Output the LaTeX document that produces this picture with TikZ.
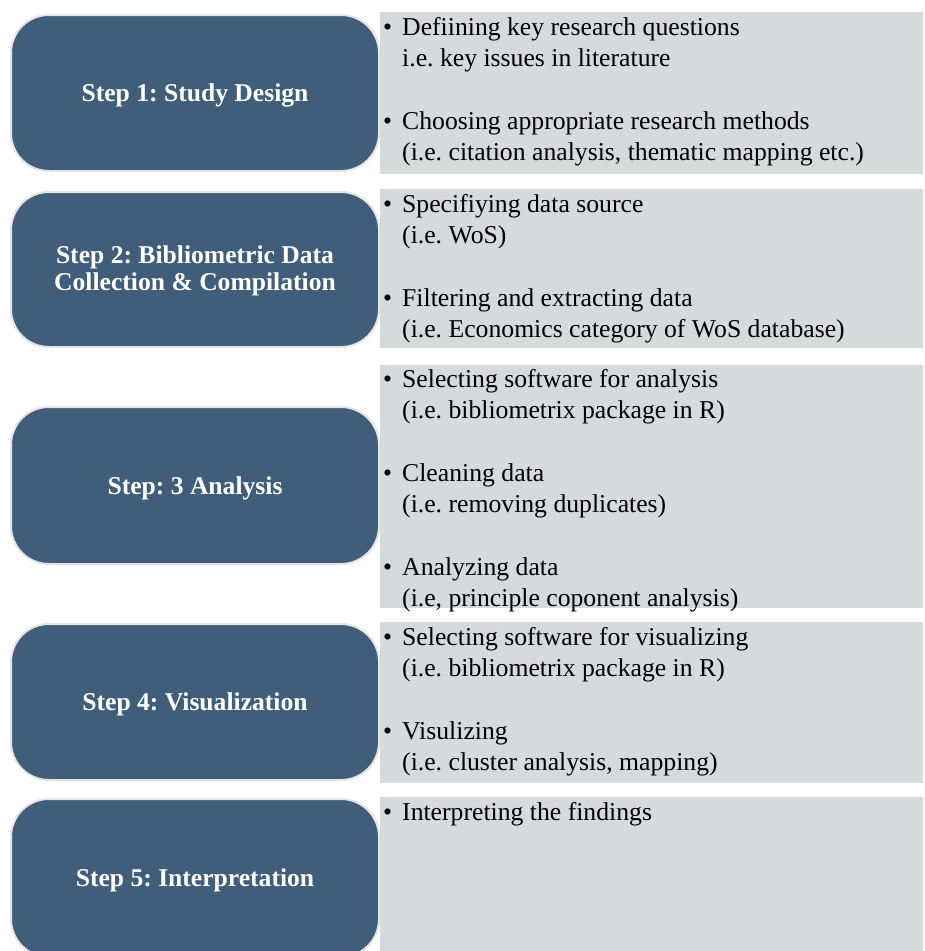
\documentclass[tikz,border=0pt]{standalone}
\usepackage{fontspec}
\setmainfont{Liberation Serif}
\frenchspacing
\definecolor{stepblue}{RGB}{64,93,122}
\definecolor{panelgrey}{RGB}{214,218,219}
\definecolor{rimgrey}{RGB}{228,228,228}
\newcommand\stepbullet{\makebox[19pt][l]{\textbullet}}
\newcommand\panelindent{\hspace*{19pt}}
\begin{document}
\begin{tikzpicture}[x=1pt,y=-1pt,
  stepbox/.style={draw=rimgrey, line width=2pt, fill=stepblue, rounded corners=38pt,
    inner sep=0pt, minimum width=368pt},
  steplabel/.style={text=white, font=\bfseries\fontsize{25.6}{27}\selectfont, align=center, inner sep=0pt},
  panel/.style={fill=panelgrey, draw=none, inner sep=0pt, minimum width=543pt},
  itemtext/.style={anchor=north west, inner sep=0pt, align=left,
    font=\frenchspacing\fontsize{25.7}{31.3}\selectfont}]
\clip (0,0) rectangle (925,951);
\useasboundingbox (0,0) rectangle (925,951);
\fill[white] (0,0) rectangle (925,951);

% grey panels
\node[panel, minimum height=162.5pt] (d1) at (651.5,92.75) {};
\node[panel, minimum height=159pt] (d2) at (651.5,268.5) {};
\node[panel, minimum height=243pt] (d3) at (651.5,486.5) {};
\node[panel, minimum height=161pt] (d4) at (651.5,702.5) {};
\node[panel, minimum height=163pt] (d5) at (651.5,878.5) {};

% step boxes
\node[stepbox, minimum height=156pt] (s1) at (195,93) {};
\node[stepbox, minimum height=155pt] (s2) at (195,269.5) {};
\node[stepbox, minimum height=157pt] (s3) at (195,485.5) {};
\node[stepbox, minimum height=156pt] (s4) at (195,702) {};
\node[stepbox, minimum height=158pt] (s5) at (195,878) {};

% step labels
\node[steplabel] (l1) at (195,95.5) {\frenchspacing Step 1: Study Design};
\node[steplabel] (l2) at (195,271) {\frenchspacing Step 2: Bibliometric Data\\Collection \& Compilation};
\node[steplabel] (l3) at (195,488.5) {\frenchspacing Step: 3 Analysis};
\node[steplabel] (l4) at (195,704.5) {\frenchspacing Step 4: Visualization};
\node[steplabel] (l5) at (195,880.5) {\frenchspacing Step 5: Interpretation};

% panel texts
\node[itemtext] (t1) at (383,15) {\rule{0pt}{20pt}\stepbullet Defiining key research questions\\
  \panelindent i.e. key issues in literature\\[31.3pt]
  \stepbullet Choosing appropriate research methods\\
  \panelindent (i.e. citation analysis, thematic mapping etc.)};
\node[itemtext] (t2) at (383,192) {\rule{0pt}{20pt}\stepbullet Specifiying data source\\
  \panelindent (i.e. WoS)\\[31.3pt]
  \stepbullet Filtering and extracting data\\
  \panelindent (i.e. Economics category of WoS database)};
\node[itemtext] (t3) at (383,367) {\rule{0pt}{20pt}\stepbullet Selecting software for analysis\\
  \panelindent (i.e. bibliometrix package in R)\\[31.3pt]
  \stepbullet Cleaning data\\
  \panelindent (i.e. removing duplicates)\\[31.3pt]
  \stepbullet Analyzing data\\
  \panelindent (i.e, principle coponent analysis)};
\node[itemtext] (t4) at (383,625) {\rule{0pt}{20pt}\stepbullet Selecting software for visualizing\\
  \panelindent (i.e. bibliometrix package in R)\\[31.3pt]
  \stepbullet Visulizing\\
  \panelindent (i.e. cluster analysis, mapping)};
\node[itemtext] (t5) at (383,800) {\rule{0pt}{20pt}\stepbullet Interpreting the findings};
\end{tikzpicture}
\end{document}
